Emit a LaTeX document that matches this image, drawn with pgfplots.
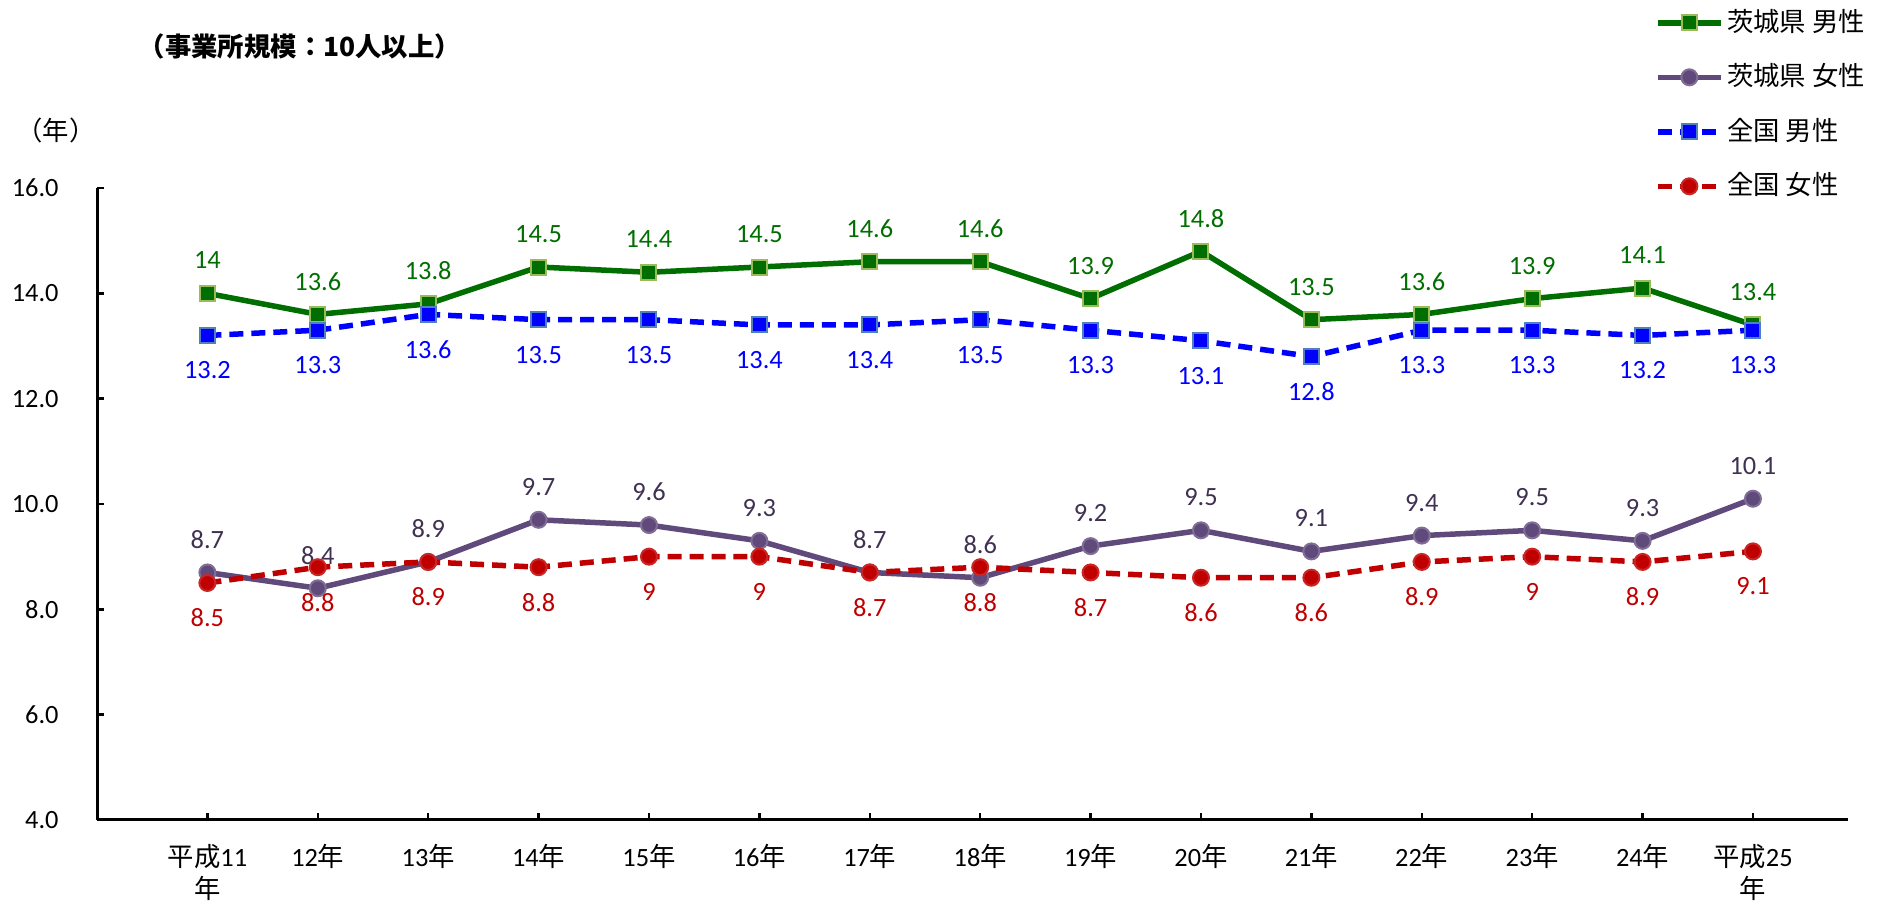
\documentclass[border=0pt]{standalone}
\usepackage{pgfplots}
\pgfplotsset{compat=1.18}
\usepackage{fontspec}
\setmainfont{Carlito}
\newfontfamily\cjk{Noto Sans CJK JP}
\definecolor{gline}{HTML}{006E00}
\definecolor{gborder}{HTML}{9BBB59}
\definecolor{pline}{HTML}{604A7B}
\definecolor{plabel}{HTML}{403152}
\definecolor{bline}{HTML}{0000FF}
\definecolor{bborder}{HTML}{4F81BD}
\definecolor{rline}{HTML}{C00000}
\pgfplotstableread{
x y
0 14
1 13.6
2 13.8
3 14.5
4 14.4
5 14.5
6 14.6
7 14.6
8 13.9
9 14.8
10 13.5
11 13.6
12 13.9
13 14.1
14 13.4
}\ibm
\pgfplotstableread{
x y
0 8.7
1 8.4
2 8.9
3 9.7
4 9.6
5 9.3
6 8.7
7 8.6
8 9.2
9 9.5
10 9.1
11 9.4
12 9.5
13 9.3
14 10.1
}\ibf
\pgfplotstableread{
x y
0 13.2
1 13.3
2 13.6
3 13.5
4 13.5
5 13.4
6 13.4
7 13.5
8 13.3
9 13.1
10 12.8
11 13.3
12 13.3
13 13.2
14 13.3
}\zm
\pgfplotstableread{
x y
0 8.5
1 8.8
2 8.9
3 8.8
4 9
5 9
6 8.7
7 8.8
8 8.7
9 8.6
10 8.6
11 8.9
12 9
13 8.9
14 9.1
}\zf
\begin{document}
\begin{tikzpicture}[font=\fontsize{7.5}{9}\selectfont]
\begin{axis}[
  scale only axis, width=175.1mm, height=63.2mm,
  xmin=-1, xmax=14.86, ymin=4, ymax=16,
  axis lines=left,
  axis line style={line width=0.3mm, -, black},
  tick align=inside,
  major tick length=0.7mm,
  tick style={line width=0.25mm, black},
  /pgf/number format/assume math mode=true,
  ytick={4,6,8,10,12,14,16},
  yticklabel={\pgfmathprintnumber[fixed,fixed zerofill,precision=1,assume math mode=true]{\tick}},
  yticklabel style={xshift=-2.6mm, font=\fontsize{7.5}{9}\selectfont},
  xtick={0,...,14},
  xticklabels={{{\cjk 平成}11\\{\cjk 年}},12{\cjk 年},13{\cjk 年},14{\cjk 年},15{\cjk 年},16{\cjk 年},17{\cjk 年},18{\cjk 年},19{\cjk 年},20{\cjk 年},21{\cjk 年},22{\cjk 年},23{\cjk 年},24{\cjk 年},{{\cjk 平成}25\\{\cjk 年}}},
  xticklabel style={align=center, yshift=-1.2mm, font=\fontsize{7.5}{9}\selectfont},
  clip=false,
  legend style={at={(axis description cs:0.8875,1.2953)}, anchor=north west, draw=none, fill=none,
    row sep=2.0mm, font=\cjk\fontsize{7.5}{9}\selectfont, inner sep=1pt,
    nodes={inner sep=1pt}},
  legend cell align=left,
  legend image code/.code={\draw[mark repeat=2,mark phase=2,#1] plot coordinates {(0mm,0mm) (3.15mm,0mm) (6.3mm,0mm)};},
  nodes near coords,
  every node near coord/.append style={font=\fontsize{7.5}{9}\selectfont, anchor=center},
]
\addplot[gline, line width=0.55mm, mark=square*, mark size=0.75mm,
  mark options={solid, fill=gline, draw=gborder, line width=0.2mm},
  every node near coord/.append style={text=gline, yshift=3.3mm}] table {\ibm};
\addlegendentry{茨城県 男性}
\addplot[pline, line width=0.55mm, mark=*, mark size=0.8mm,
  mark options={solid, fill=pline, draw=pline!80, line width=0.2mm},
  every node near coord/.append style={text=plabel, yshift=3.3mm}] table {\ibf};
\addlegendentry{茨城県 女性}
\addplot[bline, line width=0.55mm, dash pattern=on 1.4mm off 0.8mm, mark=square*, mark size=0.75mm,
  mark options={solid, fill=bline, draw=bborder, line width=0.2mm},
  every node near coord/.append style={text=bline, yshift=-3.5mm}] table {\zm};
\addlegendentry{全国 男性}
\addplot[rline, line width=0.55mm, dash pattern=on 1.4mm off 0.8mm, mark=*, mark size=0.8mm,
  mark options={solid, fill=rline, draw=rline!85!white, line width=0.2mm},
  every node near coord/.append style={text=rline, yshift=-3.5mm}] table {\zf};
\addlegendentry{全国 女性}
\node[font=\cjk\bfseries\fontsize{7.5}{9}\selectfont] at (axis description cs:0.1159,1.2247) {（事業所規模：10人以上）};
\node[font=\cjk\fontsize{7.5}{9}\selectfont] at (axis description cs:-0.0234,1.0918) {（年）};
\coordinate (bbsw) at (axis description cs:-0.0554,-0.1329);
\coordinate (bbne) at (axis description cs:1.0189,1.2975);
\end{axis}
\pgfresetboundingbox
\useasboundingbox (bbsw) rectangle (bbne);
\end{tikzpicture}
\end{document}
